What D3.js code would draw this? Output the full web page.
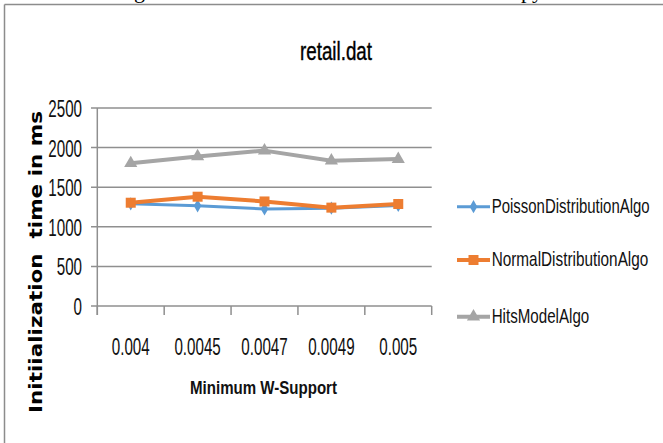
<!DOCTYPE html>
<html>
<head>
<meta charset="utf-8">
<script src="https://cdn.jsdelivr.net/npm/d3@7"></script>
<style>
  html, body { margin: 0; padding: 0; background: #fff; }
  svg { display: block; }
</style>
</head>
<body>
<script>
// Initialization time per minimum W-support, retail.dat dataset
const supports = ["0.004", "0.0045", "0.0047", "0.0049", "0.005"];
const poissonTimes = [1290, 1265, 1225, 1235, 1270];
const normalTimes = [1304, 1380, 1320, 1242, 1288];
const hitsTimes = [1802, 1888, 1962, 1835, 1855];
const yTicks = [0, 500, 1000, 1500, 2000, 2500];
const seriesNames = ["PoissonDistributionAlgo", "NormalDistributionAlgo", "HitsModelAlgo"];

const W = 663, H = 443;
const svg = d3.select("body").append("svg").attr("width", W).attr("height", H);

// page frame
svg.append("line").attr("x1", 4.5).attr("x2", W).attr("y1", 4.5).attr("y2", 4.5)
  .attr("stroke", "#8c8c8c").attr("stroke-width", 1.5);
svg.append("line").attr("x1", 4.5).attr("x2", 4.5).attr("y1", 4.5).attr("y2", H)
  .attr("stroke", "#8c8c8c").attr("stroke-width", 1.5);

// running text of the page above the frame (only descenders show)
const pageText = svg.append("g").attr("font-family", "Liberation Serif, serif")
  .attr("font-size", 22).attr("fill", "#000");
pageText.append("text").attr("x", 134).attr("y", -2).text("g");
pageText.append("text").attr("x", 521).attr("y", -2).text("py");

const x = d3.scaleBand().domain(supports).range([97.3, 431.7]).padding(0);
const y = d3.scaleLinear().domain([0, 2500]).range([306, 108]);

const grid = "#8f8f8f";
const narrow = "Liberation Sans Narrow, Liberation Sans, Arial, sans-serif";

// horizontal gridlines (extending left as ticks)
svg.append("g").selectAll("line").data(yTicks).join("line")
  .attr("x1", 91).attr("x2", 431.7)
  .attr("y1", d => y(d)).attr("y2", d => y(d))
  .attr("stroke", grid).attr("stroke-width", 1.5);

// vertical axis line
svg.append("line").attr("x1", 97.3).attr("x2", 97.3).attr("y1", y(2500)).attr("y2", y(0) + 9)
  .attr("stroke", grid).attr("stroke-width", 1.5);

// x tick marks at category boundaries
const bounds = supports.map(s => x(s)).concat([x(supports[supports.length - 1]) + x.bandwidth()]);
svg.append("g").selectAll("line").data(bounds).join("line")
  .attr("x1", d => d).attr("x2", d => d)
  .attr("y1", y(0)).attr("y2", y(0) + 9)
  .attr("stroke", grid).attr("stroke-width", 1.5);

// y tick labels
svg.append("g").selectAll("text").data(yTicks).join("text")
  .attr("transform", d => `translate(82,${y(d) + 9}) scale(0.66,1)`)
  .attr("text-anchor", "end")
  .attr("font-family", narrow).attr("font-size", 23).attr("fill", "#111")
  .text(d => d);

// x tick labels
svg.append("g").selectAll("text").data(supports).join("text")
  .attr("transform", d => `translate(${x(d) + x.bandwidth() / 2},355) scale(0.66,1)`)
  .attr("text-anchor", "middle")
  .attr("font-family", narrow).attr("font-size", 23).attr("fill", "#111")
  .text(d => d);

// title
svg.append("text").attr("x", 336).attr("y", 60).attr("text-anchor", "middle")
  .attr("font-family", narrow).attr("font-size", 25).attr("fill", "#000")
  .attr("stroke", "#000").attr("stroke-width", 0.4)
  .attr("textLength", 72).attr("lengthAdjust", "spacingAndGlyphs")
  .text("retail.dat");

// x axis title
svg.append("text").attr("x", 263.5).attr("y", 394).attr("text-anchor", "middle")
  .attr("font-family", narrow).attr("font-size", 19).attr("font-weight", "bold").attr("fill", "#111")
  .attr("textLength", 147).attr("lengthAdjust", "spacingAndGlyphs")
  .text("Minimum W-Support");

// y axis title
svg.append("text").attr("transform", "translate(42,262) rotate(-90)")
  .attr("text-anchor", "middle")
  .attr("font-family", "DejaVu Sans, sans-serif").attr("font-size", 17).attr("font-weight", "bold")
  .attr("fill", "#000")
  .attr("textLength", 302).attr("lengthAdjust", "spacingAndGlyphs")
  .style("white-space", "pre")
  .text("Initiialization  time in ms");

const series = [
  { name: seriesNames[0], values: poissonTimes, color: "#5B9BD5", marker: "diamond", width: 3 },
  { name: seriesNames[1], values: normalTimes, color: "#ED7D31", marker: "square", width: 4 },
  { name: seriesNames[2], values: hitsTimes, color: "#A5A5A5", marker: "triangle", width: 4 }
];

const symbolOf = {
  diamond: d3.symbol().type(d3.symbolDiamond).size(50),
  square: d3.symbol().type(d3.symbolSquare).size(100),
  triangle: d3.symbol().type(d3.symbolTriangle).size(75)
};

const line = d3.line()
  .x((d, i) => x(supports[i]) + x.bandwidth() / 2)
  .y(d => y(d));

series.forEach(s => {
  svg.append("path").datum(s.values)
    .attr("d", line).attr("fill", "none")
    .attr("stroke", s.color).attr("stroke-width", s.width)
    .attr("stroke-linejoin", "round");
  svg.append("g").selectAll("path").data(s.values).join("path")
    .attr("transform", (d, i) => `translate(${x(supports[i]) + x.bandwidth() / 2},${y(d)})`)
    .attr("d", symbolOf[s.marker]())
    .attr("fill", s.color);
});

// legend
const legendY = [206.7, 260, 316.7];
const legendWidths = [158, 156.6, 97.6];
const legend = svg.append("g");
series.forEach((s, i) => {
  const g = legend.append("g").attr("transform", `translate(0,${legendY[i]})`);
  g.append("line").attr("x1", 457).attr("x2", 490).attr("y1", 0).attr("y2", 0)
    .attr("stroke", s.color).attr("stroke-width", s.width);
  g.append("path").attr("transform", "translate(473.5,0)")
    .attr("d", symbolOf[s.marker]()).attr("fill", s.color);
  g.append("text").attr("x", 491.7).attr("y", 6)
    .attr("font-family", narrow).attr("font-size", 21).attr("fill", "#111")
    .attr("textLength", legendWidths[i]).attr("lengthAdjust", "spacingAndGlyphs")
    .text(s.name);
});
</script>
</body>
</html>
